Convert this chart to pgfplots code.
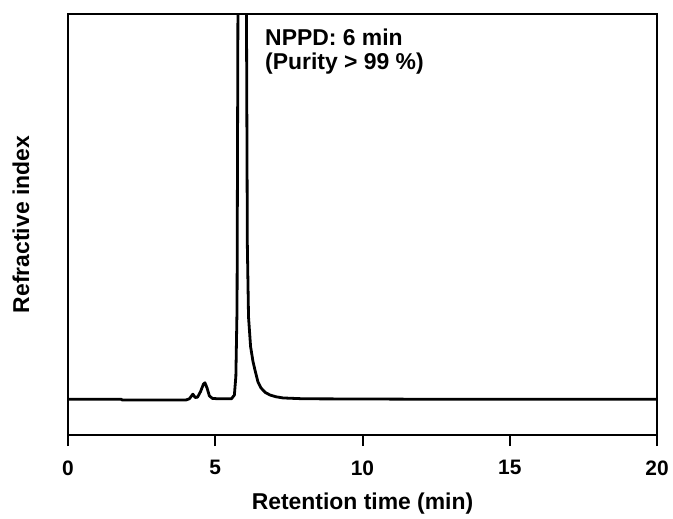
\documentclass[border=0pt]{standalone}
\usepackage{pgfplots}
\pgfplotsset{compat=1.18}
\usepackage{fontspec}
\setmainfont{Liberation Sans}

% chromatogram trace
\pgfplotstableread{
t    ri
0.00 8.5
1.80 8.5
1.85 8.3
4.00 8.3
4.12 8.6
4.24 9.7
4.32 8.9
4.40 9.0
4.50 10.3
4.60 12.1
4.65 12.4
4.72 11.2
4.80 9.3
4.90 8.7
5.10 8.6
5.55 8.6
5.65 9.5
5.70 14
5.74 30
5.77 100
5.85 200
5.92 300
5.98 200
6.06 100
6.09 45
6.13 28
6.20 21
6.28 17.5
6.35 15.4
6.45 12.6
6.55 11.2
6.70 10.1
6.86 9.5
7.05 9.1
7.30 8.8
8.00 8.6
12.0 8.5
20.0 8.5
}\chrom

\begin{document}
\begin{tikzpicture}
\begin{axis}[
    scale only axis,
    width=589bp, height=421bp,
    xmin=0, xmax=20,
    ymin=0, ymax=100,
    xtick={0,5,10,15,20},
    ytick=\empty,
    tick align=outside,
    xtick pos=bottom,
    major tick length=11bp,
    axis line style={line width=2bp},
    every tick/.style={black, line width=2bp},
    /pgf/number format/assume math mode=true,
    tick label style={font=\bfseries\fontsize{21}{23}\selectfont},
    xticklabel style={yshift=-11bp},
    xlabel={Retention time (min)},
    ylabel={Refractive index},
    xlabel style={font=\bfseries\fontsize{23}{25}\selectfont,
        at={(axis description cs:0.5,-0.178)}, anchor=base},
    ylabel style={font=\bfseries\fontsize{23}{25}\selectfont,
        at={(axis description cs:-0.066,0.5)}, anchor=base},
    clip=true,
]
\addplot[black, line width=2.8bp, line join=round] table[x=t, y=ri] {\chrom};
\node[anchor=base west, font=\bfseries\fontsize{23}{25}\selectfont, inner sep=0pt]
    at (axis cs:6.69,92.6) {NPPD: 6 min};
\node[anchor=base west, font=\bfseries\fontsize{23}{25}\selectfont, inner sep=0pt]
    at (axis cs:6.69,86.7) {(Purity > 99 \%)};
\end{axis}
\path[use as bounding box] ([xshift=-68bp,yshift=-83bp]current axis.south west)
    rectangle ([xshift=16bp,yshift=14bp]current axis.north east);
\end{tikzpicture}
\end{document}
